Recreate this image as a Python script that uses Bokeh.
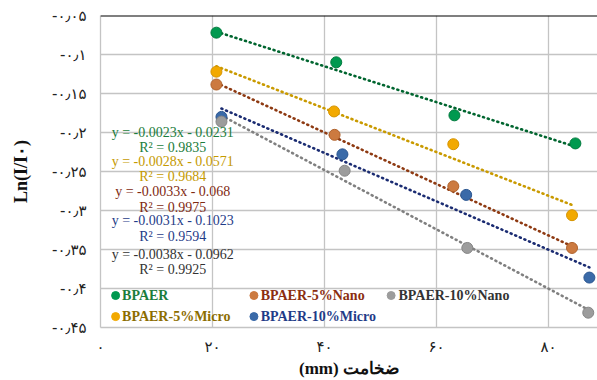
from bokeh.plotting import figure
from bokeh.models import FixedTicker, Span, ColumnDataSource
from bokeh.core.properties import value
from bokeh.embed import file_html
from bokeh.resources import INLINE

# ---------------- data ----------------
series_names = ["BPAER", "BPAER-5%Micro", "BPAER-5%Nano", "BPAER-10%Micro", "BPAER-10%Nano"]
x_bpaer = [20.7, 42.1, 63.2, 84.8]
y_bpaer = [-0.072, -0.110, -0.178, -0.214]
x_5micro = [20.7, 41.7, 63.0, 84.2]
y_5micro = [-0.122, -0.173, -0.215, -0.306]
x_5nano = [20.7, 41.8, 63.0, 84.2]
y_5nano = [-0.1385, -0.203, -0.269, -0.348]
x_10micro = [21.6, 43.2, 65.3, 87.3]
y_10micro = [-0.180, -0.228, -0.280, -0.386]
x_10nano = [21.6, 43.6, 65.5, 87.1]
y_10nano = [-0.186, -0.249, -0.348, -0.431]

slopes = [-0.0023, -0.0028, -0.0033, -0.0031, -0.0038]
intercepts = [-0.0231, -0.0571, -0.068, -0.1023, -0.0962]
equations = ["y = -0.0023x - 0.0231", "y = -0.0028x - 0.0571", "y = -0.0033x - 0.068",
             "y = -0.0031x - 0.1023", "y = -0.0038x - 0.0962"]
r2_texts = ["R² = 0.9835", "R² = 0.9684", "R² = 0.9975", "R² = 0.9594", "R² = 0.9925"]

x_ticks = [0, 20, 40, 60, 80]
x_tick_labels = ["۰", "۲۰", "۴۰", "۶۰", "۸۰"]
y_ticks = [-0.45, -0.4, -0.35, -0.3, -0.25, -0.2, -0.15, -0.1, -0.05]
y_tick_labels = ["-۰٫۴۵", "-۰٫۴", "-۰٫۳۵", "-۰٫۳", "-۰٫۲۵", "-۰٫۲", "-۰٫۱۵", "-۰٫۱", "-۰٫۰۵"]

x_title = "(mm) ضخامت"
y_title = "Ln(I/I۰)"

# ---------------- styles ----------------
xs_all = [x_bpaer, x_5micro, x_5nano, x_10micro, x_10nano]
ys_all = [y_bpaer, y_5micro, y_5nano, y_10micro, y_10nano]
marker_fill = ["#00994f", "#f2a900", "#cc7a40", "#3a6aa8", "#9c9c9c"]
marker_line = ["#007a3d", "#d69400", "#b0622c", "#2a5590", "#858585"]
trend_color = ["#00652f", "#c99a00", "#8e3a12", "#1b2c72", "#808080"]
text_color = ["#1b7d3c", "#c59a00", "#7f2a12", "#1f3c88", "#333333"]
legend_text_color = ["#1b7d3c", "#8c6d00", "#8b2e10", "#1f3c88", "#333333"]

eq_x = 12.9
eq_y = [-0.1996, -0.2368, -0.2756, -0.3128, -0.3568]
r2_y = [-0.2196, -0.2564, -0.2958, -0.3333, -0.3760]

# legend layout (column-major, 2 rows)
leg_mx = [2.7, 2.7, 27.4, 27.4, 51.9]
leg_my = [-0.409, -0.436, -0.409, -0.436, -0.409]
leg_tx = [3.85, 3.85, 28.6, 28.6, 53.2]

p = figure(width=597, height=380, output_backend="svg", toolbar_location=None,
           x_range=(0, 88.75), y_range=(-0.45, -0.05),
           min_border_left=100, min_border_right=0, min_border_top=15, min_border_bottom=53)
p.outline_line_color = None
p.background_fill_color = "white"

# grids
p.xgrid.ticker = FixedTicker(ticks=x_ticks)
p.ygrid.ticker = FixedTicker(ticks=y_ticks)
for g in (p.xgrid, p.ygrid):
    g.grid_line_color = "#c4c4c4"
    g.grid_line_width = 1.3

# axes
p.xaxis.ticker = FixedTicker(ticks=x_ticks)
p.yaxis.ticker = FixedTicker(ticks=y_ticks)
p.xaxis.major_label_overrides = {t: l for t, l in zip(x_ticks, x_tick_labels)}
p.yaxis.major_label_overrides = {t: l for t, l in zip(y_ticks, y_tick_labels)}
for ax in (p.xaxis, p.yaxis):
    ax.axis_line_color = "#c4c4c4"
    ax.axis_line_width = 1.3
    ax.major_tick_line_color = None
    ax.minor_tick_line_color = None
    ax.major_tick_in = 0
    ax.major_tick_out = 0
    ax.major_label_text_font = "DejaVu Sans"
    ax.major_label_text_font_size = "15px"
    ax.major_label_text_color = "#222222"
    ax.axis_label_text_font = "Liberation Serif"
    ax.axis_label_text_font_style = "bold"
    ax.axis_label_text_color = "#111111"
p.yaxis.axis_label = y_title
p.yaxis.axis_label_text_font_size = "18px"
p.xaxis.axis_label = x_title
p.xaxis.axis_label_text_font_size = "17px"
p.xaxis.major_label_standoff = 10
p.xaxis.axis_label_standoff = 0
p.yaxis.major_label_standoff = 14
p.yaxis.major_label_text_baseline = "top"
p.yaxis.axis_label_standoff = 18

# top black horizontal axis line
p.add_layout(Span(location=-0.05, dimension="width", line_color="black", line_width=2))

# trendlines
for xs, m, b, c in zip(xs_all, slopes, intercepts, trend_color):
    x0, x1 = min(xs), max(xs)
    p.line([x0, x1], [m * x0 + b, m * x1 + b], line_color=c, line_width=2.6,
           line_dash="1 4", line_cap="round")

# points
for xs, ys, fc, lc in zip(xs_all, ys_all, marker_fill, marker_line):
    p.scatter(xs, ys, size=11, fill_color=fc, line_color=lc, line_width=1)

# equation labels
eq_src = ColumnDataSource(dict(x=[eq_x] * 5, y=eq_y, t=equations, c=text_color))
r2_src = ColumnDataSource(dict(x=[eq_x] * 5, y=r2_y, t=r2_texts, c=text_color))
for src in (eq_src, r2_src):
    p.text("x", "y", text="t", source=src, text_color="c", text_font=value("Liberation Serif"),
           text_font_size="14px", text_align="center", text_baseline="middle")

# legend (custom, colored labels)
p.scatter(leg_mx, leg_my, size=8, fill_color=marker_fill, line_color=marker_fill)
leg_src = ColumnDataSource(dict(x=leg_tx, y=leg_my, t=series_names, c=legend_text_color))
p.text("x", "y", text="t", source=leg_src, text_color="c", text_font=value("Liberation Serif"),
       text_font_style="bold", text_font_size="14px", text_align="left", text_baseline="middle")

open("out.html", "w").write(file_html(p, INLINE))
